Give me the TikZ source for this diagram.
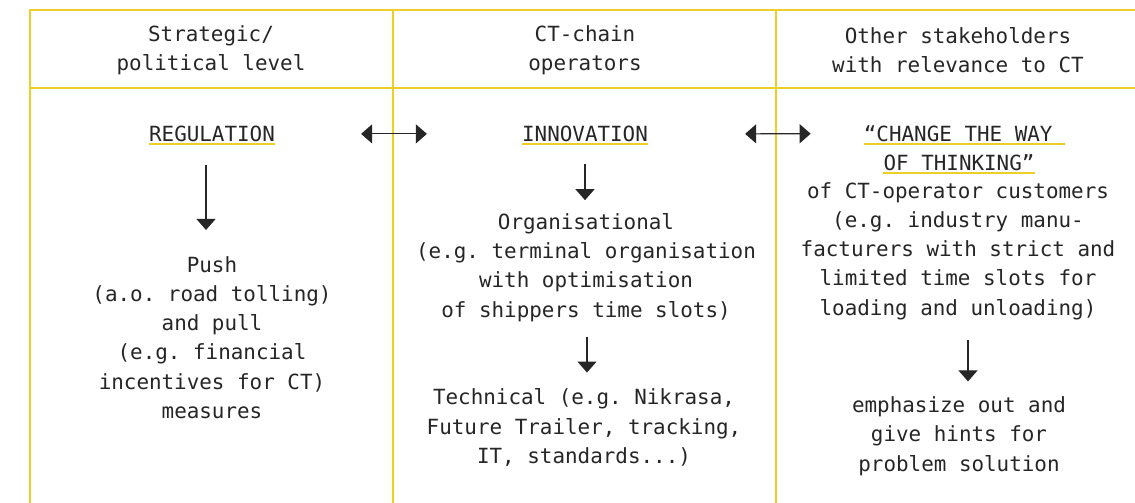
\documentclass[tikz,border=0pt]{standalone}
\usepackage{fontspec}
\newfontfamily\diagmono{DejaVu Sans Mono}
\usetikzlibrary{arrows.meta}
\definecolor{rule}{RGB}{238,207,40}
\definecolor{ink}{RGB}{38,38,38}
\begin{document}
\begin{tikzpicture}[x=1pt,y=-1pt,
  txt/.style={font=\diagmono\fontsize{20.9}{29.3}\selectfont\frenchspacing, text=ink, align=center, inner sep=0pt},
  frame/.style={draw=rule, line width=1.4pt},
  tipA/.tip={Triangle[width=19pt,length=11pt]},
  flow/.style={draw=ink, line width=1.2pt, -tipA},
  both/.style={draw=ink, line width=1.2pt, tipA-tipA},
  uline/.style={draw=rule, line width=1.8pt}]
\fill[white] (0,0) rectangle (1135,503);
\useasboundingbox (0,0) rectangle (1135,503);

% table frame
\draw[frame] (1135,10) -- (30,10) -- (30,503);
\draw[frame] (30,88) -- (1135,88);
\draw[frame] (393,10) -- (393,503);
\draw[frame] (776,10) -- (776,503);

% column headers
\node[txt] (h1) at (211,50) {Strategic/\\political level};
\node[txt] (h2) at (585,50) {CT-chain\\operators};
\node[txt] (h3) at (958,50) {Other stakeholders\\with relevance to CT};

% key words, underlined in the frame colour
\node[txt, anchor=base] (reg) at (212,141.5) {REGULATION};
\node[txt, anchor=base] (inn) at (585,141.5) {INNOVATION};
\node[txt, anchor=base] (chg1) at (964.5,141.5) {“CHANGE THE WAY~};
\node[txt, anchor=base] (chg2) at (959,170.5) {OF THINKING”};
\draw[uline] ([yshift=-2.5pt]reg.base west) -- ([yshift=-2.5pt]reg.base east);
\draw[uline] ([yshift=-2.5pt]inn.base west) -- ([yshift=-2.5pt]inn.base east);
\draw[uline] ([yshift=-2.5pt]chg1.base west) -- ([yshift=-2.5pt]chg1.base east);
\draw[uline] ([yshift=-2.5pt]chg2.base west) -- ([yshift=-2.5pt]chg2.base east);

% column contents
\node[txt] (push) at (212,337.5) {Push\\(a.o. road tolling)\\and pull\\(e.g. financial\\incentives for CT)\\measures};
\node[txt] (org) at (586,267.5) {Organisational\\(e.g. terminal organisation\\with optimisation\\of shippers time slots)};
\node[txt] (tech) at (584,427.5) {Technical (e.g. Nikrasa,\\Future Trailer, tracking,\\IT, standards...)};
\node[txt] (cust) at (958,251) {of CT-operator customers\\(e.g. industry manu-\\facturers with strict and\\limited time slots for\\loading and unloading)};
\node[txt] (emph) at (959,436) {emphasize out and\\give hints for\\problem solution};

% arrows
\draw[both] ([xshift=86pt]reg.east) -- ([xshift=-95pt]inn.west);
\draw[both] ([xshift=97pt]inn.east) -- ([xshift=-53pt]chg1.west);
\draw[flow] ([xshift=-6pt,yshift=-23.5pt]reg.south) -- ([xshift=-6pt,yshift=26pt]push.north);
\draw[flow] ([yshift=-22pt]inn.south) -- ([xshift=-1pt,yshift=13pt]org.north);
\draw[flow] ([xshift=1pt,yshift=-15pt]org.south) -- ([xshift=3pt,yshift=16pt]tech.north);
\draw[flow] ([xshift=10pt,yshift=-20pt]cust.south) -- ([xshift=9pt,yshift=15pt]emph.north);
\end{tikzpicture}
\end{document}
